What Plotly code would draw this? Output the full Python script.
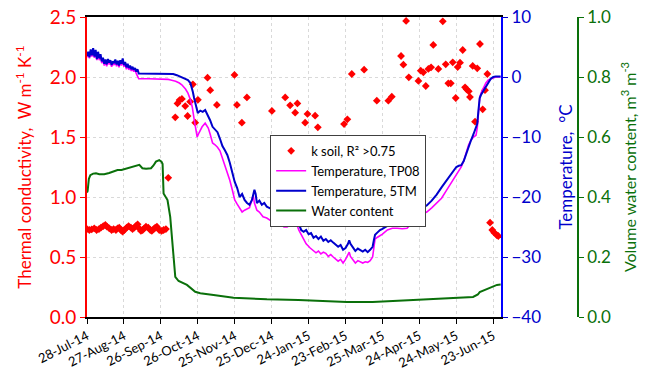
import pandas as pd
import plotly.graph_objects as go

START = "2014-07-28"

# ---- data (day offset from START, value) ----
k_early_day = [0, 1.9, 3.8, 5.9, 7.8, 9.7, 11.3, 13.2, 14.9, 16.2, 18.1, 20, 21.6, 23.5, 24.9, 26.2,
               27.6, 28.9, 30.3, 32.2, 33.8, 35.7, 37, 38.4, 39.7, 41.1, 42.4, 43.8, 45.2, 46.5, 47.9,
               49.8, 51.4, 52.7, 54.1, 55.4, 56.8, 58.7, 60.6, 62.2, 64.1]
k_early_val = [0.733, 0.725, 0.73, 0.739, 0.725, 0.733, 0.744, 0.758, 0.767, 0.753, 0.739, 0.725,
               0.733, 0.725, 0.739, 0.744, 0.725, 0.711, 0.725, 0.744, 0.758, 0.744, 0.733, 0.744,
               0.758, 0.772, 0.739, 0.717, 0.725, 0.739, 0.753, 0.744, 0.725, 0.717, 0.733, 0.744,
               0.753, 0.725, 0.717, 0.725, 0.733]

k_late_day = [66, 71.7, 73.5, 75.2, 77.1, 79.8, 81.7, 83.8, 86.0, 87.9, 90.1, 97.9, 100.1, 105.5,
              119.8, 121.8, 125.8, 129.9, 150.2, 161.0, 165.0, 169.1, 170.9, 177.2, 179.1, 185.3,
              187.5, 208.8, 211.5, 215.1, 225.1, 235.4, 244.8, 247.6, 255.1, 257.0, 259.2, 261.4,
              269.2, 271.1, 273.2, 275.2, 277.3, 279.5, 281.3, 285.4, 289.0, 291.4, 293.5, 295.5,
              297.1, 299.5, 301.1, 303.0, 305.2, 307.1, 308.4, 310.1, 311.1, 313.3, 315.2, 317.0,
              319.2, 321.4, 323.3, 325.2, 327.4, 329.2, 330.8, 332.8, 334.1]
k_late_val = [1.16, 1.664, 1.78, 1.808, 1.817, 1.758, 1.675, 1.794, 1.939, 1.619, 1.81, 1.994, 1.89,
              1.767, 2.017, 1.767, 1.619, 1.83, 1.717, 1.83, 1.764, 1.703, 1.78, 1.619, 1.692, 1.678,
              1.581, 1.608, 1.647, 2.025, 2.061, 1.803, 1.803, 1.836, 2.175, 2.103, 2.467, 1.997,
              1.967, 2.053, 2.039, 1.925, 2.067, 2.081, 2.267, 2.067, 2.464, 2.106, 1.947, 1.947,
              2.122, 1.825, 2.083, 2.119, 2.225, 1.914, 1.897, 1.881, 1.833, 2.092, 1.628, 2.072,
              2.275, 1.731, 1.89, 2.025, 0.786, 0.725, 0.703, 0.683, 0.675]

temp_5tm = [
    (0, 3.5), (1, 4.2), (2, 3.3), (3, 4.6), (4, 3.6), (5, 4.8), (6, 3.4), (7, 4.5), (8, 3.0), (9, 4.2),
    (10, 3.1), (11, 3.8), (12, 2.6), (13, 3.2), (14, 2.2), (15, 2.9), (16, 2.1), (17, 3.0), (18, 2.4),
    (19, 2.8), (20, 2.0), (21, 2.6), (22, 2.3), (23, 2.9), (24, 2.1), (25, 2.7), (26, 1.9), (27, 2.8),
    (28, 2.2), (29, 3.1), (30, 2.0), (31, 2.5), (32, 1.6), (33, 2.2), (34, 1.5), (35, 1.9), (36, 1.3),
    (37, 1.7), (38, 1.2), (39, 1.5), (40, 0.9), (41, 1.3), (42, 0.6), (50, 0.6), (60, 0.6), (66, 0.6),
    (70, 0.5), (73, 0.3), (76, 0.0), (78, -0.1), (80, -0.3), (82, -0.5), (84, -1.0), (85, -1.6),
    (86, -2.5), (87, -3.5), (88, -4.3), (89, -5.3), (90, -6.0), (92, -5.6), (94, -5.8), (96, -5.5),
    (98, -6.3), (100, -7.2), (102, -8.3), (104, -8.8), (106, -9.2), (108, -10.3), (110, -11.5),
    (112, -12.2), (114, -13.0), (116, -14.3), (118, -16.0), (120, -17.5), (122, -18.5), (124, -20.0),
    (126, -19.5), (128, -20.5), (130, -21.0), (132, -21.3), (134, -20.5), (136, -18.8), (137, -19.5),
    (138, -21.0), (140, -20.6), (142, -21.3), (144, -21.0), (146, -21.6), (148, -21.8), (150, -22.0),
    (152, -22.6), (154, -22.3), (156, -23.2), (158, -23.0), (160, -23.4), (162, -23.0), (164, -23.3),
    (166, -22.6), (168, -23.0), (170, -22.7), (172, -24.5), (174, -25.5), (176, -25.8), (178, -25.5),
    (180, -26.2), (182, -26.0), (184, -26.8), (186, -26.5), (188, -27.0), (190, -26.6), (192, -27.3),
    (194, -27.0), (196, -27.5), (198, -27.2), (200, -27.6), (202, -27.9), (204, -28.3), (206, -28.0),
    (208, -28.8), (210, -28.5), (212, -27.8), (213, -27.2), (214, -27.8), (216, -28.4), (218, -29.0),
    (220, -28.6), (222, -28.8), (224, -29.1), (226, -28.8), (228, -29.2), (230, -28.8), (232, -28.3),
    (233, -27.2), (234, -26.3), (236, -25.9), (238, -25.5), (240, -25.3), (244, -24.8), (248, -24.3),
    (252, -24.2), (256, -24.0), (260, -23.8), (264, -23.0), (268, -22.2), (272, -21.8), (276, -21.4),
    (280, -20.6), (284, -19.6), (288, -18.4), (292, -17.3), (296, -16.3), (300, -15.0), (302, -14.8),
    (304, -14.7), (306, -14.0), (308, -12.8), (310, -11.5), (312, -10.5), (314, -9.5), (316, -8.5),
    (317, -7.8), (318, -5.5), (319, -3.5), (320, -3.0), (322, -2.3), (324, -1.5), (326, -0.8),
    (328, -0.3), (330, 0.0), (332, 0.1), (336, 0.1)]

temp_tp08 = [
    (0, 3.3), (1, 4.0), (2, 3.1), (3, 4.3), (4, 3.4), (5, 4.5), (6, 3.2), (7, 4.2), (8, 2.8), (9, 3.9),
    (10, 2.8), (11, 3.5), (12, 2.3), (13, 2.9), (14, 1.9), (15, 2.6), (16, 1.8), (17, 2.7), (18, 2.1),
    (19, 2.5), (20, 1.7), (21, 2.3), (22, 2.0), (23, 2.6), (24, 1.8), (25, 2.4), (26, 1.6), (27, 2.5),
    (28, 1.9), (29, 2.8), (30, 1.7), (31, 2.2), (32, 1.3), (33, 1.9), (34, 1.2), (35, 1.6), (36, 1.0),
    (37, 1.4), (38, 0.9), (39, 1.2), (40, 0.6), (41, 0.2), (42, -0.3), (50, -0.3), (60, -0.3),
    (66, -0.4), (68, -0.5), (72, -0.7), (75, -1.0), (77, -1.3), (80, -2.0), (82, -2.7), (84, -3.8),
    (85.5, -5.0), (87, -7.0), (88, -8.3), (89.5, -10.0), (91, -9.3), (93.5, -8.3), (96, -7.7),
    (98.5, -8.5), (100, -9.5), (102, -11.0), (104, -11.3), (106, -11.7), (108, -12.3), (110, -13.5),
    (112, -14.8), (114, -15.8), (116, -17.2), (118, -18.8), (120, -20.5), (122, -21.2), (124, -21.8),
    (126, -22.5), (128, -22.2), (130, -22.0), (132, -21.8), (134, -20.5), (135, -19.7), (136, -21.0),
    (138, -22.2), (140, -22.5), (143, -23.3), (146, -23.5), (148, -23.8), (150, -24.0), (152, -24.3),
    (154.5, -24.2), (156, -24.8), (158, -24.6), (160, -25.0), (162.6, -25.0), (165, -24.6),
    (167, -24.3), (169, -24.5), (170.7, -24.7), (172, -25.5), (174.8, -26.7), (178, -27.8),
    (181.3, -28.5), (184, -29.0), (186, -29.3), (188, -29.0), (190, -29.5), (192, -29.2), (194, -29.4),
    (196, -29.9), (198, -29.6), (200, -30.0), (202, -30.3), (204, -30.7), (206, -30.4), (208, -31.0),
    (210, -30.4), (212, -29.7), (213, -29.2), (214, -29.9), (216, -30.5), (218, -31.0), (220, -30.6),
    (222, -30.8), (224, -31.0), (226, -30.8), (228, -30.9), (230, -30.6), (232, -30.0), (233, -28.5),
    (234, -27.0), (236, -26.7), (238, -26.5), (240, -26.2), (244, -25.5), (248, -25.2), (252, -25.2),
    (256, -25.3), (260, -25.2), (264, -24.3), (268, -23.2), (272, -22.8), (276, -22.5), (280, -21.8),
    (284, -21.0), (288, -20.2), (292, -18.9), (296, -17.6), (300, -16.2), (302, -15.5), (304, -15.0),
    (306, -14.0), (308, -12.8), (310, -11.3), (312, -10.5), (314, -10.0), (316, -9.7), (317, -8.5),
    (318, -6.0), (319, -3.5), (320, -2.7), (322, -1.8), (324, -1.0), (326, -0.5), (328, -0.3),
    (330, -0.2), (332, 0.0), (336, 0.0)]

water = [
    (0, 0.415), (0.5, 0.42), (1.5, 0.46), (2.7, 0.473), (5, 0.478), (7.3, 0.479), (10, 0.476),
    (14, 0.476), (18, 0.48), (21, 0.485), (24.8, 0.49), (28, 0.49), (33, 0.496), (38, 0.5),
    (42.5, 0.507), (45, 0.496), (48, 0.494), (52, 0.496), (54, 0.505), (56, 0.518), (58.7, 0.523),
    (60.5, 0.518), (61.4, 0.51), (62.2, 0.412), (65.4, 0.39), (67.6, 0.334), (69.8, 0.223),
    (71.7, 0.134), (74.4, 0.12), (81.2, 0.107), (87.9, 0.084), (92, 0.079), (102.8, 0.073),
    (119, 0.064), (146.1, 0.059), (171.8, 0.057), (211, 0.05), (232, 0.05), (265, 0.057),
    (313.6, 0.067), (317.5, 0.075), (319, 0.083), (333, 0.107), (336, 0.108)]

x_tick_step_days = 30
x_end_day = 336.3


def to_dates(days):
    return pd.Timestamp(START) + pd.to_timedelta(list(days), unit="D")


RED = "#ff0000"
BLUE = "#0000cc"
MAG = "#ff00ff"
GREEN = "#0a700a"
FONT = "Lato"

fig = go.Figure()
fig.add_trace(go.Scatter(
    x=to_dates(k_early_day + k_late_day), y=k_early_val + k_late_val, mode="markers",
    marker=dict(symbol="diamond", size=6, color=RED),
    name="k soil, R² >0.75", yaxis="y"))
fig.add_trace(go.Scatter(
    x=to_dates([d for d, _ in temp_tp08]), y=[v for _, v in temp_tp08], mode="lines",
    line=dict(color=MAG, width=1.6), name="Temperature, TP08", yaxis="y2"))
fig.add_trace(go.Scatter(
    x=to_dates([d for d, _ in temp_5tm]), y=[v for _, v in temp_5tm], mode="lines",
    line=dict(color=BLUE, width=2), name="Temperature, 5TM", yaxis="y2"))
fig.add_trace(go.Scatter(
    x=to_dates([d for d, _ in water]), y=[v for _, v in water], mode="lines",
    line=dict(color=GREEN, width=2), name="Water content", yaxis="y3"))

x0 = pd.Timestamp(START)
x1 = x0 + pd.Timedelta(days=x_end_day)

fig.update_layout(
    width=664, height=380,
    margin=dict(l=87, r=86, t=17, b=63),
    paper_bgcolor="white", plot_bgcolor="white",
    font=dict(family=FONT, size=14, color="black"),
    showlegend=True,
    legend=dict(x=0.373, y=0.607, xanchor="left", yanchor="top",
                bgcolor="white", bordercolor="#404040", borderwidth=1,
                font=dict(family=FONT, size=13, color="black"),
                itemwidth=30, tracegroupgap=0),
    xaxis=dict(
        domain=[0, 0.8432], range=[x0, x1], type="date", automargin=False,
        tick0=x0, dtick=x_tick_step_days * 86400000, tickformat="%d-%b-%y",
        tickangle=-27, ticks="outside", ticklen=5, tickcolor="black",
        tickfont=dict(family=FONT, size=13, color="black"),
        showline=True, linecolor="black", linewidth=1.5, mirror=True,
        showgrid=True, gridcolor="#d9d9d9", griddash="dot", zeroline=False),
    yaxis=dict(
        range=[0, 2.5], dtick=0.5, tickformat=".1f", automargin=False,
        ticklabeloverflow="allow",
        ticks="outside", ticklen=5, tickcolor=RED,
        tickfont=dict(family=FONT, size=19, color=RED),
        showline=True, linecolor=RED, linewidth=2,
        showgrid=True, gridcolor="#d9d9d9", griddash="dot", zeroline=False,
        title=dict(text="Thermal conductivity,  W m<sup>-1</sup> K<sup>-1</sup>",
                   font=dict(family=FONT, size=17, color=RED), standoff=14)),
    yaxis2=dict(
        range=[-40, 10], dtick=10, overlaying="y", side="right", anchor="x", automargin=False,
        ticklabeloverflow="allow",
        ticks="outside", ticklen=5, tickcolor=BLUE,
        tickfont=dict(family=FONT, size=17, color=BLUE),
        showline=True, linecolor="#0000ff", linewidth=2,
        showgrid=False, zeroline=False,
        title=dict(text="Temperature,  °C", font=dict(family=FONT, size=17, color=BLUE),
                   standoff=20)),
    yaxis3=dict(
        range=[0, 1.0], dtick=0.2, tickformat=".1f", overlaying="y", side="right",
        anchor="free", position=1.0, automargin=False,
        ticklabeloverflow="allow",
        ticks="outside", ticklen=5, tickcolor=GREEN,
        tickfont=dict(family=FONT, size=17, color=GREEN),
        showline=True, linecolor=GREEN, linewidth=1.5,
        showgrid=False, zeroline=False,
        title=dict(text="Volume water content, m<sup>3</sup> m<sup>-3</sup>",
                   font=dict(family=FONT, size=16, color=GREEN), standoff=14)),
)

# remove the browser's default 8px body margin so the figure fills the window
fig.write_html("out.html", config={"displayModeBar": False},
               post_script="document.body.style.margin='0';")
